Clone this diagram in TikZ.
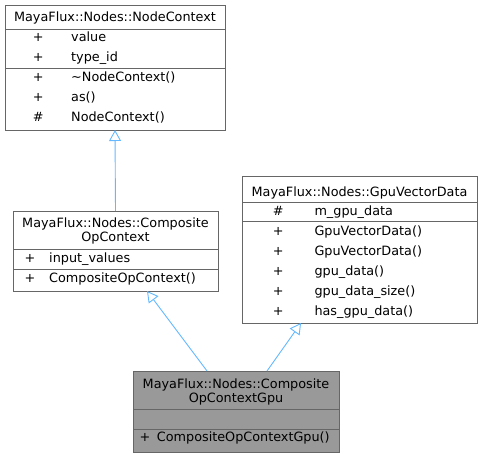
\documentclass[tikz,border=0pt]{standalone}
\usepackage{fontspec}
\setmainfont{DejaVu Sans}
\usetikzlibrary{arrows.meta}
\definecolor{bordergray}{HTML}{666666}
\definecolor{fillgray}{HTML}{999999}
\definecolor{inhblue}{HTML}{63B8FF}
\begin{document}
\begin{tikzpicture}[x=1pt,y=-1pt,
  umlbox/.style={draw=bordergray, line width=0.9pt, fill=white, inner sep=0pt, outer sep=0pt},
  txt/.style={inner sep=0pt, anchor=base west, font=\fontsize{12.8}{14}\selectfont},
  ctxt/.style={inner sep=0pt, anchor=base, font=\fontsize{12.8}{14}\selectfont, align=center},
  vis/.style={inner sep=0pt, anchor=base, font=\fontsize{12.8}{14}\selectfont},
  sep/.style={draw=bordergray, line width=0.9pt},
  inh/.style={draw=inhblue, line width=0.9pt, -{Triangle[open, length=11pt, width=12pt]}}]
\useasboundingbox (0,0) rectangle (481,457);

% Box 1: NodeContext
\node[umlbox, minimum width=220pt, minimum height=125pt] (b1) at (115,67.5) {};
\draw[sep] (5,29) -- (225,29);
\draw[sep] (5,68) -- (225,68);
\node[ctxt] (b1t) at (115,21.5) {MayaFlux::Nodes::NodeContext};
\node[vis] (b1v1) at (38.3,41.5) {+};
\node[txt] (b1a1) at (71,41.5) {value};
\node[vis] (b1v2) at (38.3,61.5) {+};
\node[txt] (b1a2) at (71,61.5) {type\_id};
\node[vis] (b1v3) at (38.3,81.5) {+};
\node[txt] (b1m1) at (71,81.5) {\char"223C NodeContext()};
\node[vis] (b1v4) at (38.3,101.5) {+};
\node[txt] (b1m2) at (71,101.5) {as()};
\node[vis] (b1v5) at (38.3,121.5) {\#};
\node[txt] (b1m3) at (71,121.5) {NodeContext()};

% Box 2: CompositeOpContext
\node[umlbox, minimum width=205pt, minimum height=80pt] (b2) at (115.5,251) {};
\draw[sep] (13,249) -- (218,249);
\draw[sep] (13,269) -- (218,269);
\node[ctxt] (b2t1) at (115.5,227.5) {MayaFlux::Nodes::Composite};
\node[ctxt] (b2t2) at (115.5,241.5) {OpContext};
\node[vis] (b2v1) at (30,262) {+};
\node[txt] (b2a1) at (49,262) {input\_values};
\node[vis] (b2v2) at (30,282) {+};
\node[txt] (b2m1) at (49,282) {CompositeOpContext()};

% Box 3: GpuVectorData
\node[umlbox, minimum width=235pt, minimum height=147pt] (b3) at (359.5,249.5) {};
\draw[sep] (242,202) -- (477,202);
\draw[sep] (242,221) -- (477,221);
\node[ctxt] (b3t) at (359.5,196) {MayaFlux::Nodes::GpuVectorData};
\node[vis] (b3v1) at (278.3,215) {\#};
\node[txt] (b3a1) at (314.3,215) {m\_gpu\_data};
\node[vis] (b3v2) at (278.3,235) {+};
\node[txt] (b3m1) at (314.3,235) {GpuVectorData()};
\node[vis] (b3v3) at (278.3,255) {+};
\node[txt] (b3m2) at (314.3,255) {GpuVectorData()};
\node[vis] (b3v4) at (278.3,275) {+};
\node[txt] (b3m3) at (314.3,275) {gpu\_data()};
\node[vis] (b3v5) at (278.3,295) {+};
\node[txt] (b3m4) at (314.3,295) {gpu\_data\_size()};
\node[vis] (b3v6) at (278.3,315) {+};
\node[txt] (b3m5) at (314.3,315) {has\_gpu\_data()};

% Box 4: CompositeOpContextGpu
\node[umlbox, fill=fillgray, minimum width=206pt, minimum height=81pt] (b4) at (236,411.5) {};
\draw[sep] (133,409) -- (339,409);
\draw[sep] (133,429) -- (339,429);
\node[ctxt] (b4t1) at (236,388.3) {MayaFlux::Nodes::Composite};
\node[ctxt] (b4t2) at (236,402.3) {OpContextGpu};
\node[vis] (b4v1) at (145,441.7) {+};
\node[txt] (b4m1) at (156.7,441.7) {CompositeOpContextGpu()};

% Inheritance connectors
\draw[inh] (b2.north) -- (b1.south);
\draw[inh] ([xshift=-29pt]b4.north) -- ([xshift=31.5pt]b2.south);
\draw[inh] ([xshift=31pt]b4.north) -- ([xshift=-58.5pt]b3.south);
\end{tikzpicture}
\end{document}
